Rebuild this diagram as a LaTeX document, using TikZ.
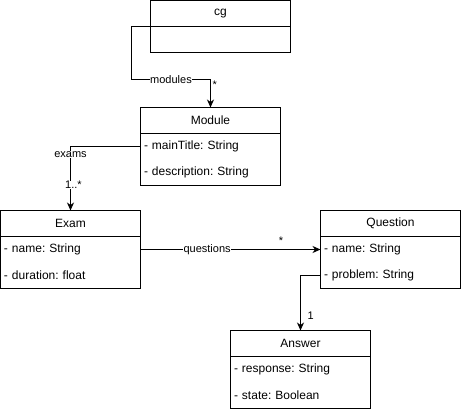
\documentclass[tikz,border=0pt]{standalone}
\usepackage{fontspec}
\setmainfont{Liberation Sans}
\usetikzlibrary{positioning}
\usetikzlibrary{arrows.meta}

\tikzset{
	classhead/.style={draw, rectangle, minimum width=140pt, minimum height=26pt, inner sep=0pt, outer sep=0pt, anchor=north west, font=\fontsize{12}{14}\selectfont},
	attr/.style={rectangle, minimum width=140pt, minimum height=26pt, text width=133pt, inner xsep=3.5pt, inner ysep=0pt, outer sep=0pt, align=left, font=\fontsize{12}{14}\selectfont},
	assoc/.style={line width=1pt, -{Stealth[length=8pt, width=7pt, inset=2.5pt]}},
	lbl/.style={font=\fontsize{11}{13}\selectfont, inner sep=0.5pt},
	lblfill/.style={lbl, fill=white}
}

\begin{document}
\frenchspacing
\begin{tikzpicture}[x=1pt, y=-1pt, line width=1pt]
	\useasboundingbox (-0.5,-0.5) rectangle (460.5,411.5);

	% cg
	\node [classhead] at (150,0) (cg){cg};
	\node [attr, below=0pt of cg] (cg_body){};
	\draw (cg.north west) rectangle (cg_body.south east);

	% Module
	\node [classhead] at (140,107) (module){Module};
	\node [attr, below=0pt of module] (module_title){- mainTitle: String};
	\node [attr, below=0pt of module_title] (module_descr){- description: String};
	\draw (module.north west) rectangle (module_descr.south east);

	% Exam
	\node [classhead] at (0,210) (exam){Exam};
	\node [attr, below=0pt of exam] (exam_name){- name: String};
	\node [attr, below=0pt of exam_name] (exam_duration){- duration: float};
	\draw (exam.north west) rectangle (exam_duration.south east);

	% Question
	\node [classhead] at (320,210) (question){Question};
	\node [attr, below=0pt of question] (question_name){- name: String};
	\node [attr, below=0pt of question_name] (question_problem){- problem: String};
	\draw (question.north west) rectangle (question_problem.south east);

	% Answer
	\node [classhead] at (230,330) (answer){Answer};
	\node [attr, below=0pt of answer] (answer_response){- response: String};
	\node [attr, below=0pt of answer_response] (answer_state){- state: Boolean};
	\draw (answer.north west) rectangle (answer_state.south east);

	% associations
	\draw [assoc] (cg.south west) -- ++(-19,0) -- ++(0,53) -| (module)
		node [lblfill, pos=0.25] {modules}
		node [lbl, pos=0.5, anchor=north west, xshift=1pt] {*};
	\draw [assoc] (module_title.west) -| (exam)
		node [lblfill, pos=0.56] {exams}
		node [lblfill, pos=0.8, xshift=3pt] {1..*};
	\draw [assoc] (exam_name.east) -- (question_name.west)
		node [lblfill, pos=0.37] {questions}
		node [lbl, pos=0.78, above=4pt] {*};
	\draw [assoc] (question_problem.west) -| (answer)
		node [lbl, pos=0.87, right=6pt] {1};

\end{tikzpicture}
\end{document}
